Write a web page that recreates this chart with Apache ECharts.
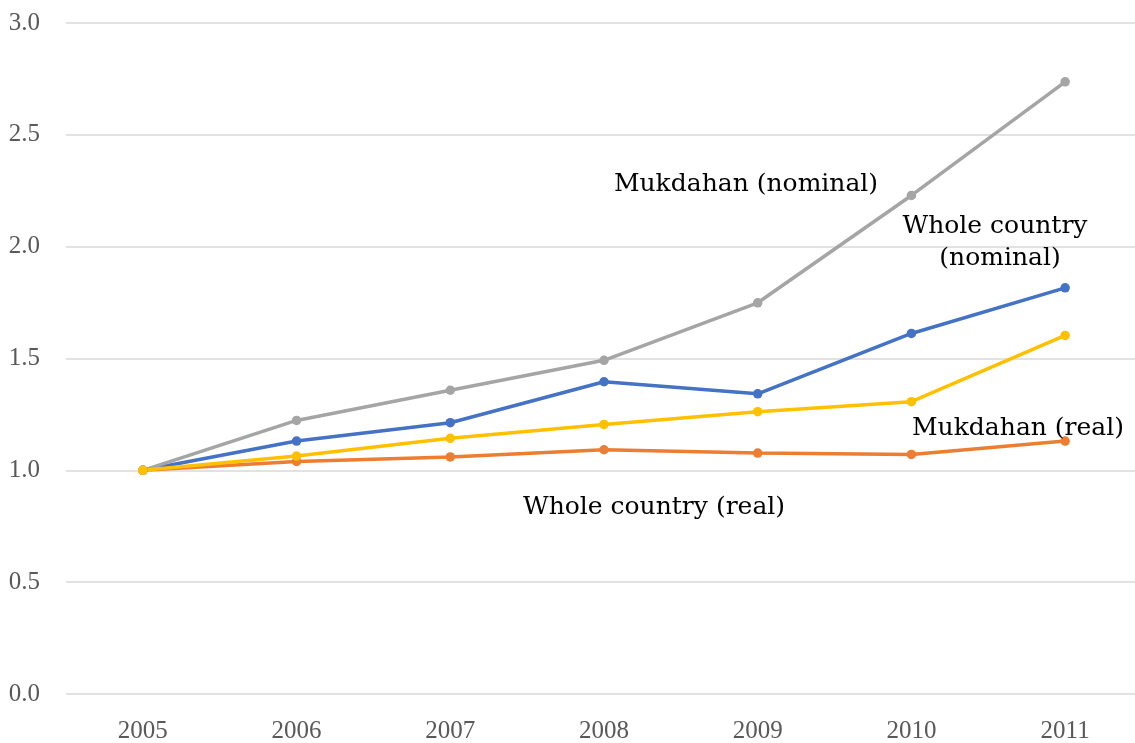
<!DOCTYPE html>
<html>
<head>
<meta charset="utf-8">
<script src="https://cdn.jsdelivr.net/npm/echarts@6/dist/echarts.min.js"></script>
<style>
html,body{margin:0;padding:0;background:#fff;}
#chart{width:1135px;height:743px;}
</style>
</head>
<body>
<div id="chart"></div>
<script>
// Data
var years = ['2005', '2006', '2007', '2008', '2009', '2010', '2011'];
var wholeCountryNominal = [1.0, 1.131, 1.213, 1.396, 1.342, 1.612, 1.816];
var wholeCountryReal    = [1.0, 1.040, 1.060, 1.092, 1.077, 1.071, 1.131];
var mukdahanNominal     = [1.0, 1.223, 1.358, 1.492, 1.749, 2.229, 2.737];
var mukdahanReal        = [1.0, 1.064, 1.143, 1.205, 1.262, 1.307, 1.603];
var yTicks = ['0.0', '0.5', '1.0', '1.5', '2.0', '2.5', '3.0'];

var labelFont = 'DejaVu Serif';
var tickFont = 'Liberation Serif';

function mkSeries(name, data, color) {
  return {
    name: name,
    type: 'line',
    data: data,
    symbol: 'circle',
    symbolSize: 9.5,
    lineStyle: { width: 3.5, color: color },
    itemStyle: { color: color },
    emphasis: { disabled: true },
    animation: false
  };
}

function txt(s, x, y) {
  return {
    type: 'text',
    x: x, y: y,
    style: {
      text: s,
      font: '25px "' + labelFont + '"',
      fill: '#000',
      align: 'center',
      verticalAlign: 'middle'
    },
    z: 100
  };
}

var chart = echarts.init(document.getElementById('chart'), null, { renderer: 'canvas' });
chart.setOption({
  animation: false,
  grid: { left: 66, right: -7, top: 23, bottom: 49, containLabel: false, outerBoundsMode: 'none' },
  xAxis: {
    type: 'category',
    data: years,
    boundaryGap: true,
    axisLine: { show: false },
    axisTick: { show: false },
    axisLabel: { color: '#595959', fontFamily: tickFont, fontSize: 25, margin: 25 },
    splitLine: { show: false }
  },
  yAxis: {
    type: 'value',
    min: 0, max: 3, interval: 0.5,
    axisLine: { show: false },
    axisTick: { show: false },
    axisLabel: {
      color: '#595959', fontFamily: tickFont, fontSize: 25, margin: 26,
      formatter: function (v) { return yTicks[Math.round(v / 0.5)]; }
    },
    splitLine: { show: true, lineStyle: { color: '#d9d9d9', width: 1.5 } }
  },
  series: [
    mkSeries('Whole country (nominal)', wholeCountryNominal, '#4472C4'),
    mkSeries('Whole country (real)', wholeCountryReal, '#ED7D31'),
    mkSeries('Mukdahan (nominal)', mukdahanNominal, '#A5A5A5'),
    mkSeries('Mukdahan (real)', mukdahanReal, '#FFC000')
  ],
  graphic: [
    txt('Mukdahan (nominal)', 746, 184),
    txt('Whole country', 995, 226),
    txt('(nominal)', 1000, 258),
    txt('Mukdahan (real)', 1018, 428),
    txt('Whole country (real)', 654, 507)
  ]
});
</script>
</body>
</html>
